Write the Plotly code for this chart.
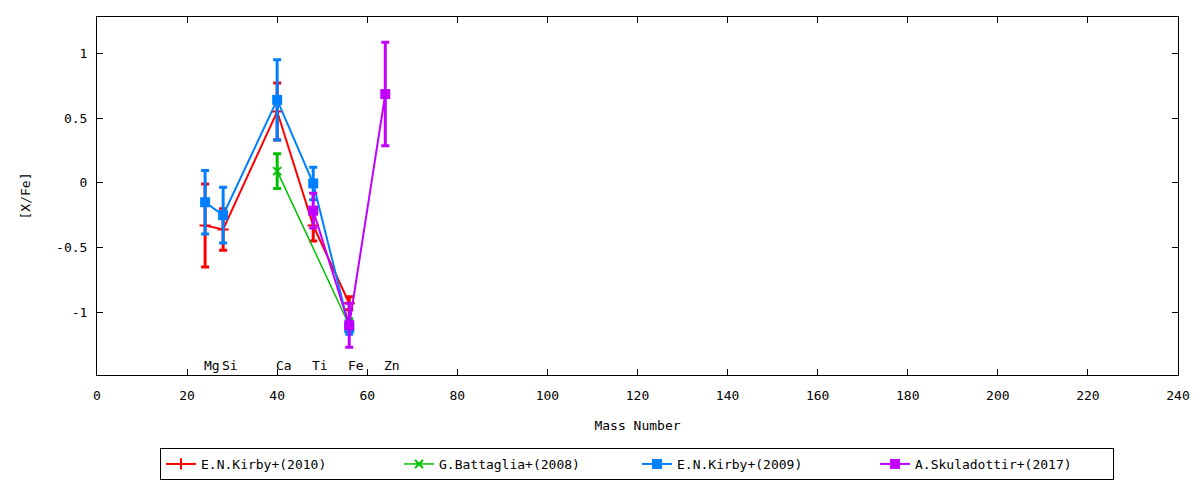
import plotly.graph_objects as go

# Element positions (mass numbers) and labels
elements = ["Mg", "Si", "Ca", "Ti", "Fe", "Zn"]
element_mass = [24, 28, 40, 48, 56, 64]

# E.N.Kirby+(2010)
kirby10_x = [24, 28, 40, 48, 56]
kirby10_y = [-0.33, -0.36, 0.55, -0.33, -0.93]
kirby10_err = [0.32, 0.16, 0.22, 0.12, 0.05]

# G.Battaglia+(2008)
batt08_x = [40, 56]
batt08_y = [0.09, -1.10]
batt08_err = [0.135, 0.05]

# E.N.Kirby+(2009)
kirby09_x = [24, 28, 40, 48, 56]
kirby09_y = [-0.15, -0.25, 0.64, -0.005, -1.12]
kirby09_err = [0.245, 0.215, 0.31, 0.125, 0.05]

# A.Skuladottir+(2017)
skul17_x = [48, 56, 64]
skul17_y = [-0.215, -1.10, 0.685]
skul17_err = [0.135, 0.17, 0.40]

x_ticks = [0, 20, 40, 60, 80, 100, 120, 140, 160, 180, 200, 220, 240]
y_ticks = [-1, -0.5, 0, 0.5, 1]
y_ticktext = ["-1", "-0.5", "0", "0.5", "1"]

FONT = "DejaVu Sans Mono"
W, H = 1192, 472  # page body has an 8px margin

series = [
    ("E.N.Kirby+(2010)", kirby10_x, kirby10_y, kirby10_err, "#ff0000",
     dict(symbol="cross-thin", size=8, line=dict(width=2, color="#ff0000")), 2),
    ("G.Battaglia+(2008)", batt08_x, batt08_y, batt08_err, "#00c000",
     dict(symbol="x-thin", size=8, line=dict(width=2, color="#00c000")), 1.5),
    ("E.N.Kirby+(2009)", kirby09_x, kirby09_y, kirby09_err, "#0080ff",
     dict(symbol="square", size=10), 2),
    ("A.Skuladottir+(2017)", skul17_x, skul17_y, skul17_err, "#c000ff",
     dict(symbol="square", size=10), 2),
]

fig = go.Figure()
for name, xs, ys, es, col, mk, lw in series:
    fig.add_trace(go.Scatter(
        x=xs, y=ys, name=name, mode="lines+markers",
        line=dict(color=col, width=lw),
        marker=dict(color=col, **mk),
        error_y=dict(type="data", array=es, visible=True, color=col,
                     thickness=3, width=4),
    ))

for el, m in zip(elements, element_mass):
    fig.add_annotation(x=m, y=-1.41, text=el, showarrow=False,
                       xanchor="left", yanchor="middle", xshift=-3,
                       font=dict(family=FONT, size=13, color="black"))

axis_common = dict(showline=True, linecolor="black", linewidth=1, mirror="ticks",
                   ticks="inside", ticklen=6, tickcolor="black", showgrid=False,
                   zeroline=False, automargin=False,
                   tickfont=dict(family=FONT, size=13, color="black"))

fig.update_xaxes(range=[0, 240], tickvals=x_ticks, ticklabelstandoff=8,
                 title=dict(text="Mass Number", font=dict(family=FONT, size=13, color="black"),
                            standoff=19),
                 **axis_common)
fig.update_yaxes(range=[-1.484, 1.28], tickvals=y_ticks, ticktext=y_ticktext,
                 ticklabelstandoff=6,
                 title=dict(text="[X/Fe]", font=dict(family=FONT, size=13, color="black"),
                            standoff=22),
                 **axis_common)

fig.update_layout(
    width=W, height=H,
    margin=dict(l=89, r=22, t=9, b=105, autoexpand=False),
    plot_bgcolor="white", paper_bgcolor="white",
    font=dict(family=FONT, size=13, color="black"),
    legend=dict(orientation="h", xref="container", yref="container",
                x=152 / W, y=1 - 440 / H, xanchor="left", yanchor="top",
                bordercolor="black", borderwidth=1, bgcolor="white",
                entrywidth=193, entrywidthmode="pixels",
                font=dict(family=FONT, size=13, color="black")),
    showlegend=True,
)

fig.write_html("out.html")
